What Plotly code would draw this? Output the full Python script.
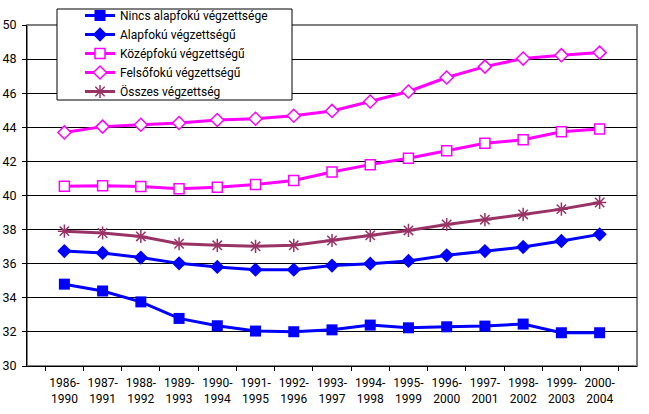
import plotly.graph_objects as go

periods = ["1986-<br>1990", "1987-<br>1991", "1988-<br>1992", "1989-<br>1993", "1990-<br>1994",
           "1991-<br>1995", "1992-<br>1996", "1993-<br>1997", "1994-<br>1998", "1995-<br>1999",
           "1996-<br>2000", "1997-<br>2001", "1998-<br>2002", "1999-<br>2003", "2000-<br>2004"]

nincs = [34.80, 34.40, 33.76, 32.79, 32.36, 32.05, 32.01, 32.12, 32.40, 32.24, 32.30, 32.34, 32.46, 31.95, 31.95]
alap = [36.74, 36.63, 36.36, 36.02, 35.81, 35.65, 35.65, 35.89, 36.00, 36.16, 36.49, 36.74, 36.98, 37.33, 37.72]
kozep = [40.54, 40.57, 40.53, 40.39, 40.49, 40.64, 40.88, 41.38, 41.81, 42.18, 42.63, 43.06, 43.27, 43.74, 43.90]
felso = [43.70, 44.04, 44.15, 44.25, 44.43, 44.50, 44.68, 44.96, 45.51, 46.10, 46.92, 47.56, 48.03, 48.23, 48.38]
osszes = [37.91, 37.80, 37.60, 37.17, 37.08, 37.02, 37.08, 37.36, 37.66, 37.95, 38.30, 38.58, 38.89, 39.20, 39.59]

names = ["Nincs alapfokú végzettsége", "Alapfokú végzettségű", "Középfokú végzettségű",
         "Felsőfokú végzettségű", "Összes végzettség"]

BLUE = "#0000FF"
MAG = "#FF00FF"
PLUM = "#993366"
FONT = "Roboto, sans-serif"

fig = go.Figure()
fig.add_trace(go.Scatter(x=periods, y=nincs, name=names[0], mode="lines+markers",
                         line=dict(color=BLUE, width=3),
                         marker=dict(symbol="square", size=11, color=BLUE)))
fig.add_trace(go.Scatter(x=periods, y=alap, name=names[1], mode="lines+markers",
                         line=dict(color=BLUE, width=3),
                         marker=dict(symbol="diamond", size=11, color=BLUE)))
fig.add_trace(go.Scatter(x=periods, y=kozep, name=names[2], mode="lines+markers",
                         line=dict(color=MAG, width=3),
                         marker=dict(symbol="square", size=10, color="white",
                                     line=dict(color=MAG, width=1.5))))
fig.add_trace(go.Scatter(x=periods, y=felso, name=names[3], mode="lines+markers",
                         line=dict(color=MAG, width=3),
                         marker=dict(symbol="diamond", size=10, color="white",
                                     line=dict(color=MAG, width=1.5))))
fig.add_trace(go.Scatter(x=periods, y=osszes, name=names[4], mode="lines+markers",
                         line=dict(color=PLUM, width=3),
                         marker=dict(symbol="asterisk-open", size=11,
                                     line=dict(color=PLUM, width=1.5))))

# gray plot-area frame (top and right visible)
fig.add_shape(type="rect", xref="paper", yref="paper", x0=0, y0=0, x1=1, y1=1,
              line=dict(color="#808080", width=2), layer="below")
# legend box (white with black border)
fig.add_shape(type="rect", xref="paper", yref="paper",
              x0=(57 - 27) / 610, x1=(292 - 27) / 610,
              y0=(366 - 100) / 341, y1=(366 - 9) / 341,
              line=dict(color="black", width=1), fillcolor="white", layer="above")

fig.update_layout(
    width=649, height=414,
    margin=dict(l=27, r=12, t=25, b=48, autoexpand=False),
    paper_bgcolor="white", plot_bgcolor="white",
    font=dict(family=FONT, size=12, color="black"),
    showlegend=True,
    legend=dict(x=(80 - 27) / 610, y=(366 - 1) / 341, xanchor="left", yanchor="top",
                bgcolor="rgba(0,0,0,0)", borderwidth=0,
                font=dict(family=FONT, size=12, color="black"),
                tracegroupgap=0, itemwidth=30),
)
fig.update_xaxes(type="category", showgrid=False, showline=True, linecolor="black", linewidth=1,
                 ticks="outside", tickson="boundaries", ticklen=4, tickcolor="black",
                 ticklabelstandoff=6, tickangle=0, automargin=False,
                 tickfont=dict(family=FONT, size=12), mirror=False, zeroline=False)
fig.update_yaxes(range=[30, 50], dtick=2, showgrid=True, gridcolor="black", gridwidth=1,
                 showline=True, linecolor="black", linewidth=1, ticks="outside", ticklen=4,
                 ticklabelstandoff=3, automargin=False,
                 tickcolor="black", tickfont=dict(family=FONT, size=12.5), zeroline=False)

fig.write_html("out.html")
